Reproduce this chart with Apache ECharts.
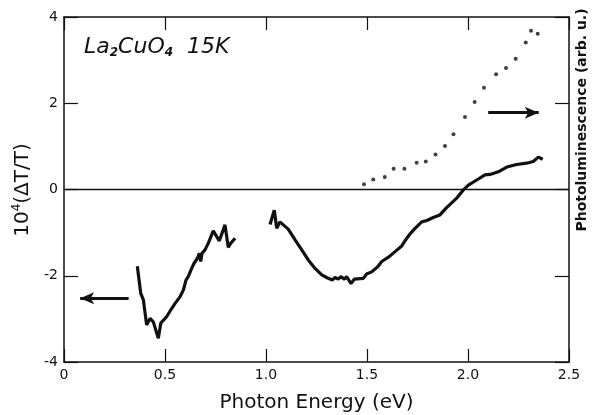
<!DOCTYPE html>
<html>
<head>
<meta charset="utf-8">
<script src="https://cdn.jsdelivr.net/npm/echarts@6/dist/echarts.min.js"></script>
<style>
  html, body { margin: 0; padding: 0; background: #fff; }
  #main { width: 592px; height: 415px; }
</style>
</head>
<body>
<div id="main"></div>
<script>
var dom = document.getElementById('main');
var myChart = echarts.init(dom);

// differential transmission, low-energy piece (eV, 10^4 dT/T)
var lowE = [0.363, 0.380, 0.393, 0.409, 0.426, 0.442, 0.467, 0.479, 0.508, 0.533, 0.550, 0.574, 0.591, 0.604, 0.615, 0.632, 0.644, 0.660, 0.670, 0.677, 0.683, 0.698, 0.714, 0.739, 0.769, 0.797, 0.813, 0.825, 0.847];
var lowV = [-1.78, -2.41, -2.56, -3.14, -2.99, -3.07, -3.45, -3.10, -2.95, -2.76, -2.64, -2.49, -2.33, -2.10, -2.02, -1.83, -1.71, -1.60, -1.48, -1.67, -1.48, -1.40, -1.25, -0.96, -1.19, -0.82, -1.34, -1.25, -1.13];

// differential transmission, high-energy piece
var highE = [1.020, 1.041, 1.053, 1.069, 1.086, 1.110, 1.144, 1.177, 1.210, 1.243, 1.276, 1.300, 1.328, 1.342, 1.358, 1.371, 1.388, 1.399, 1.421, 1.437, 1.482, 1.498, 1.523, 1.553, 1.573, 1.606, 1.639, 1.672, 1.697, 1.713, 1.738, 1.771, 1.796, 1.828, 1.861, 1.894, 1.944, 1.977, 2.002, 2.043, 2.084, 2.109, 2.150, 2.192, 2.241, 2.290, 2.323, 2.348, 2.370];
var highV = [-0.81, -0.48, -0.90, -0.75, -0.82, -0.92, -1.17, -1.40, -1.64, -1.83, -1.98, -2.04, -2.10, -2.04, -2.08, -2.02, -2.08, -2.02, -2.18, -2.08, -2.06, -1.96, -1.91, -1.79, -1.67, -1.57, -1.44, -1.31, -1.13, -1.03, -0.90, -0.75, -0.72, -0.65, -0.59, -0.42, -0.20, -0.01, 0.10, 0.22, 0.34, 0.35, 0.41, 0.52, 0.58, 0.61, 0.65, 0.75, 0.70];

// photoluminescence dots (right axis, arb. u.)
var plE = [1.485, 1.531, 1.588, 1.632, 1.685, 1.746, 1.791, 1.839, 1.886, 1.928, 1.985, 2.033, 2.079, 2.139, 2.188, 2.236, 2.286, 2.312, 2.345];
var plV = [0.12, 0.23, 0.29, 0.48, 0.48, 0.62, 0.65, 0.81, 1.01, 1.28, 1.68, 2.03, 2.36, 2.67, 2.82, 3.03, 3.41, 3.68, 3.61];

// axis arrows: [x start, x end, y]
var leftArrow = [0.32, 0.08, -2.52];
var rightArrow = [2.10, 2.35, 1.78];

function zip(a, b) {
  return a.map(function (v, i) { return [v, b[i]]; });
}

var ink = '#111';
var fontFam = '"DejaVu Sans", "Liberation Sans", sans-serif';

function frameAxis(pos, isX) {
  var ax = {
    type: 'value',
    position: pos,
    axisLine: { onZero: false, lineStyle: { color: ink, width: 1.5 } },
    axisTick: { inside: true, length: isX ? 13 : 14, lineStyle: { color: ink, width: 1.2 } },
    axisLabel: { show: false },
    splitLine: { show: false }
  };
  if (isX) { ax.min = 0; ax.max = 2.5; ax.interval = 0.5; }
  else { ax.min = -4; ax.max = 4; ax.interval = 2; }
  return ax;
}

var xBottom = frameAxis('bottom', true);
xBottom.axisLabel = {
  color: ink, fontSize: 14, fontFamily: fontFam, margin: 6,
  formatter: function (v) { return v === 0 ? '0' : v.toFixed(1); }
};
xBottom.name = 'Photon Energy (eV)';
xBottom.nameLocation = 'middle';
xBottom.nameGap = 31;
xBottom.nameTextStyle = { color: ink, fontSize: 20, fontFamily: fontFam };

var yLeft = frameAxis('left', false);
yLeft.axisLabel = { color: ink, fontSize: 14, fontFamily: fontFam, margin: 6 };

var option = {
  backgroundColor: '#fff',
  animation: false,
  grid: { left: 64, right: 23, top: 17, bottom: 53, containLabel: false, outerBoundsMode: 'none' },
  xAxis: [xBottom, frameAxis('top', true)],
  yAxis: [yLeft, frameAxis('right', false)],
  graphic: [
    {
      type: 'text', left: 84, top: 36,
      style: {
        text: '{m|La}{s|2}{m|CuO}{s|4}{m|  15K}',
        rich: {
          m: { fontSize: 22, fontStyle: 'italic', fontFamily: fontFam, fill: ink },
          s: { fontSize: 12, fontStyle: 'italic', fontWeight: 'bold', fontFamily: fontFam, fill: ink, padding: [12, 0, 0, 0] }
        }
      }
    },
    {
      type: 'text', x: 23, y: 190, rotation: Math.PI / 2,
      style: {
        text: '10{sup|4}(ΔT/T)',
        fontSize: 20, fontFamily: fontFam, fill: ink,
        align: 'center', verticalAlign: 'middle',
        rich: { sup: { fontSize: 12, fontFamily: fontFam, fill: ink, padding: [0, 0, 12, 0] } }
      }
    },
    {
      type: 'text', x: 582, y: 120, rotation: Math.PI / 2,
      style: {
        text: 'Photoluminescence (arb. u.)',
        fontSize: 14, fontWeight: 'bold', fontFamily: fontFam, fill: ink,
        align: 'center', verticalAlign: 'middle'
      }
    }
  ],
  series: [
    {
      type: 'line', data: zip(lowE, lowV), xAxisIndex: 0, yAxisIndex: 0,
      showSymbol: false, lineStyle: { color: ink, width: 3.2 },
      markLine: {
        silent: true, symbol: ['none', 'none'],
        lineStyle: { color: ink, width: 1.3, type: 'solid' },
        label: { show: false },
        data: [{ yAxis: 0 }]
      }
    },
    {
      type: 'line', data: zip(highE, highV), xAxisIndex: 0, yAxisIndex: 0,
      showSymbol: false, lineStyle: { color: ink, width: 3.2 },
      markLine: {
        silent: true, symbol: ['none', 'arrow'], symbolSize: [9, 14],
        lineStyle: { color: ink, width: 3, type: 'solid' },
        label: { show: false },
        data: [
          [{ coord: [leftArrow[0], leftArrow[2]] }, { coord: [leftArrow[1], leftArrow[2]] }],
          [{ coord: [rightArrow[0], rightArrow[2]] }, { coord: [rightArrow[1], rightArrow[2]] }]
        ]
      }
    },
    {
      type: 'scatter', data: zip(plE, plV), xAxisIndex: 0, yAxisIndex: 1,
      symbol: 'circle', symbolSize: 4, itemStyle: { color: ink }
    }
  ]
};
myChart.setOption(option);
</script>
</body>
</html>
